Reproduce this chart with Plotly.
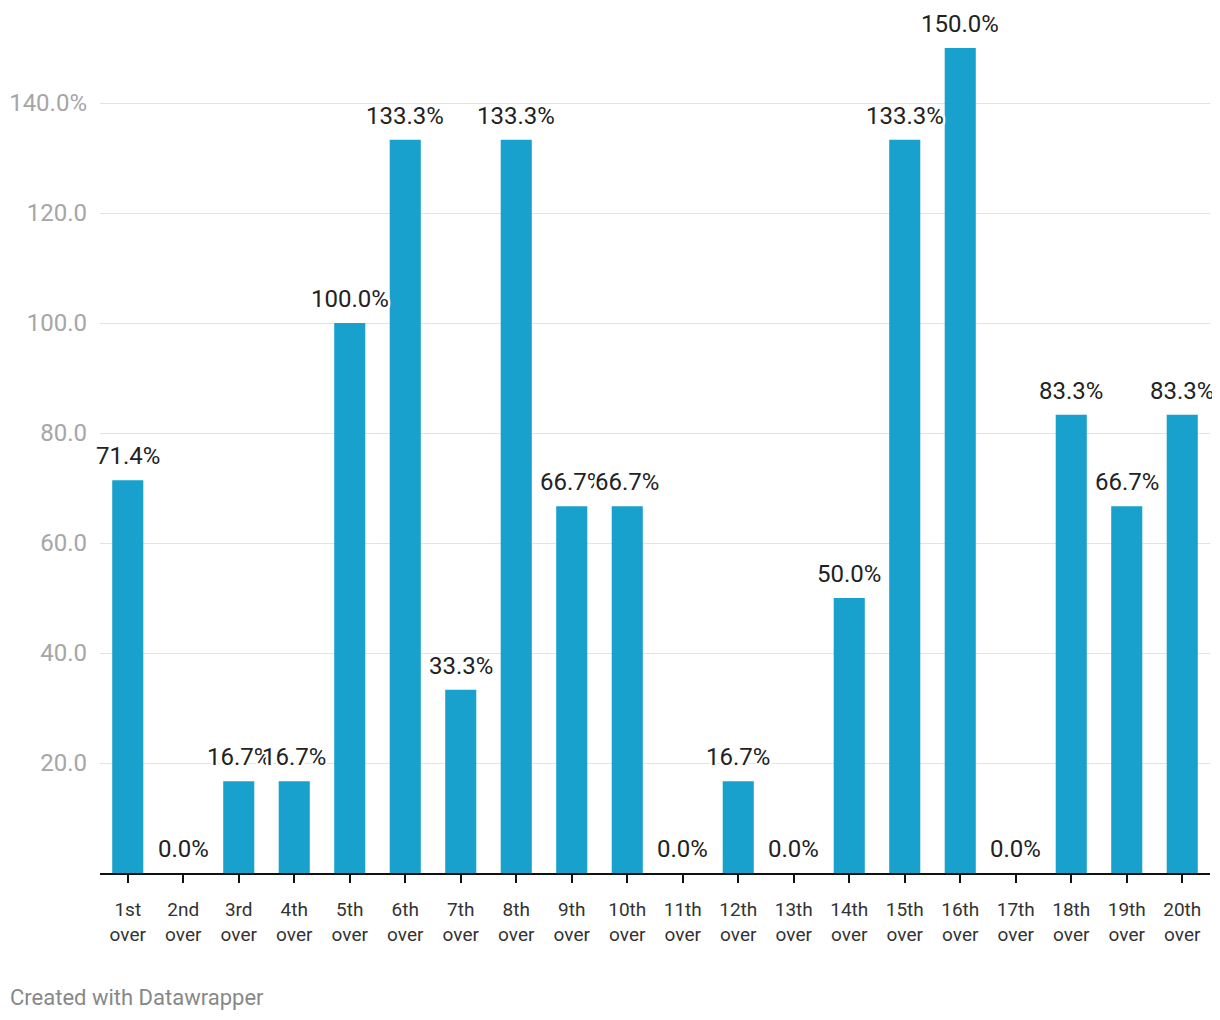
import plotly.graph_objects as go

categories = ["1st<br>over", "2nd<br>over", "3rd<br>over", "4th<br>over", "5th<br>over",
              "6th<br>over", "7th<br>over", "8th<br>over", "9th<br>over", "10th<br>over",
              "11th<br>over", "12th<br>over", "13th<br>over", "14th<br>over", "15th<br>over",
              "16th<br>over", "17th<br>over", "18th<br>over", "19th<br>over", "20th<br>over"]
values = [71.4, 0.0, 16.7, 16.7, 100.0, 133.3, 33.3, 133.3, 66.7, 66.7,
          0.0, 16.7, 0.0, 50.0, 133.3, 150.0, 0.0, 83.3, 66.7, 83.3]
y_tickvals = [20, 40, 60, 80, 100, 120, 140]
y_ticktext = ["20.0", "40.0", "60.0", "80.0", "100.0", "120.0", "140.0%"]

BAR = "#18a1cd"
halo = ", ".join(f"{dx}px {dy}px 0 #fff" for dx in (-2, -1, 0, 1, 2) for dy in (-2, -1, 0, 1, 2))

fig = go.Figure()
fig.add_trace(go.Bar(x=categories, y=values, marker_color=BAR, marker_line_width=0,
                     width=0.56, hoverinfo="skip"))

for c, v in zip(categories, values):
    fig.add_annotation(x=c, y=v, xref="x", yref="y", text=f"{v:.1f}%", showarrow=False,
                       yanchor="middle", yshift=24,
                       font=dict(family="Roboto", size=24, color="#222", shadow=halo))

fig.add_annotation(x=0, y=0, xref="paper", yref="paper", xanchor="left", yanchor="middle",
                   xshift=-92, yshift=-124, text="Created with Datawrapper", showarrow=False,
                   font=dict(family="Roboto", size=22, color="#888"))

fig.update_layout(
    width=1212, height=1012,
    margin=dict(l=92, r=10, t=40, b=147, autoexpand=False),
    paper_bgcolor="white", plot_bgcolor="white",
    showlegend=False, bargap=0.44,
    font=dict(family="Roboto"),
)
fig.update_xaxes(range=[-0.5, len(categories) - 0.5], autorange=False,
                 showgrid=False, showline=True, linecolor="#111", linewidth=2,
                 ticks="outside", ticklen=8, tickwidth=2, tickcolor="#111",
                 ticklabelstandoff=10, automargin=False,
                 tickfont=dict(family="Roboto", size=19, color="#333"),
                 zeroline=False, fixedrange=True)
fig.update_yaxes(range=[0, 150], autorange=False, tickvals=y_tickvals, ticktext=y_ticktext,
                 showgrid=True, gridcolor="#e3e3e3", gridwidth=1, zeroline=False,
                 showline=False, ticks="", ticklabelstandoff=12, automargin=False,
                 tickfont=dict(family="Roboto", size=24, color="#a6a6a6"), fixedrange=True)

fig.write_html("out.html")
